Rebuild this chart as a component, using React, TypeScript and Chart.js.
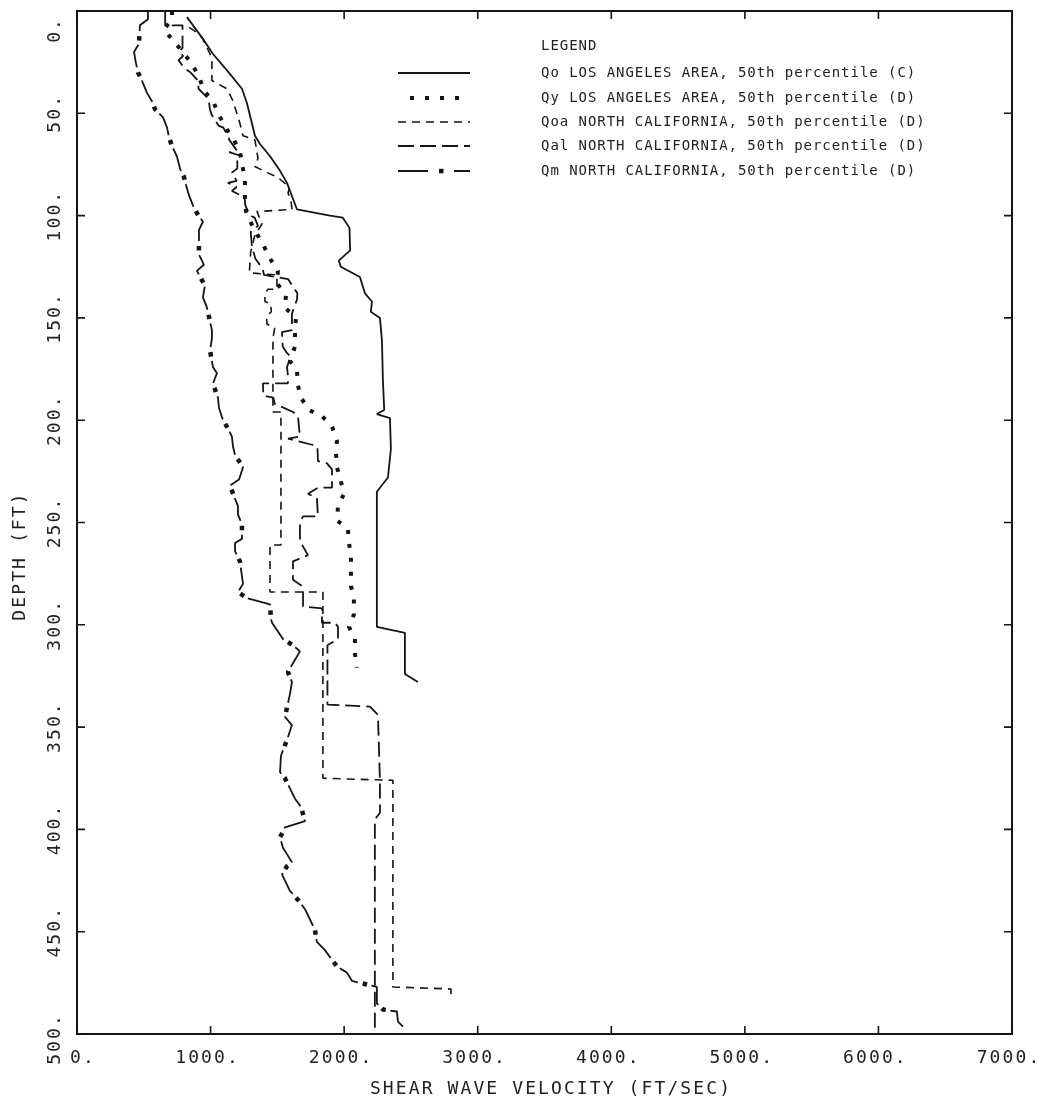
import React, { useEffect, useRef } from 'react';
import { Chart, registerables } from 'chart.js';

Chart.register(...registerables);

// ---------- data (velocity ft/s, depth ft) ----------
const X_TICKS = [0, 1000, 2000, 3000, 4000, 5000, 6000, 7000];
const X_TICK_LABELS = ['0.', '1000.', '2000.', '3000.', '4000.', '5000.', '6000.', '7000.'];
const Y_TICKS = [0, 50, 100, 150, 200, 250, 300, 350, 400, 450, 500];
const Y_TICK_LABELS = ['0.', '50.', '100.', '150.', '200.', '250.', '300.', '350.', '400.', '450.', '500.'];

const X_TITLE = 'SHEAR WAVE VELOCITY (FT/SEC)';
const Y_TITLE = 'DEPTH (FT)';
const LEGEND_TITLE = 'LEGEND';
const SERIES_LABELS = [
  'Qo LOS ANGELES AREA, 50th percentile (C)',
  'Qy LOS ANGELES AREA, 50th percentile (D)',
  'Qoa NORTH CALIFORNIA, 50th percentile (D)',
  'Qal NORTH CALIFORNIA, 50th percentile (D)',
  'Qm NORTH CALIFORNIA, 50th percentile (D)',
];

const QO_POINTS: [number, number][] = [
  [823, 3], [936, 13], [1018, 21], [1123, 29], [1235, 38], [1272, 45], [1310, 55], [1332, 61],
  [1370, 65], [1445, 71], [1519, 78], [1572, 84], [1647, 97], [1894, 100], [1990, 101], [2040, 106],
  [2045, 117], [1960, 122], [1975, 125], [2118, 130], [2156, 138], [2208, 142], [2200, 147], [2268, 150],
  [2283, 161], [2290, 180], [2300, 195], [2245, 197], [2343, 199], [2350, 214], [2328, 228], [2245, 235],
  [2245, 301], [2455, 304], [2455, 324], [2552, 328],
];

const QY_POINTS: [number, number][] = [
  [711, 0], [711, 4], [651, 9], [726, 15], [793, 20], [861, 26], [913, 32], [950, 39], [1018, 44],
  [1063, 51], [1123, 58], [1175, 63], [1220, 69], [1240, 76], [1257, 83], [1257, 91], [1265, 98],
  [1320, 106], [1392, 114], [1445, 121], [1504, 127], [1497, 133], [1564, 139], [1557, 145], [1639, 150],
  [1632, 157], [1632, 164], [1594, 171], [1647, 176], [1654, 183], [1677, 189], [1736, 195], [1834, 198],
  [1909, 203], [1946, 210], [1939, 216], [1946, 223], [1976, 230], [1999, 236], [1954, 242], [1946, 249],
  [2028, 253], [2036, 260], [2051, 266], [2051, 274], [2051, 281], [2073, 287], [2073, 295], [2036, 301],
  [2081, 307], [2081, 314], [2096, 321],
];

const QOA_POINTS: [number, number][] = [
  [840, 8], [885, 10], [936, 13], [996, 21], [1010, 25], [1010, 34], [1123, 38], [1168, 44], [1220, 55],
  [1243, 61], [1332, 63], [1355, 72], [1332, 76], [1422, 79], [1497, 81], [1590, 86], [1580, 89],
  [1600, 92], [1610, 97], [1347, 98], [1385, 104], [1330, 110], [1300, 118], [1290, 128], [1497, 129],
  [1497, 136], [1430, 136], [1407, 138], [1407, 142], [1450, 143], [1455, 147], [1420, 149], [1422, 153],
  [1480, 155], [1467, 160], [1467, 196], [1527, 196], [1527, 261], [1445, 261], [1445, 284], [1841, 284],
  [1841, 375], [2365, 376], [2365, 477], [2800, 478], [2800, 481],
];

const QAL_POINTS: [number, number][] = [
  [660, 0], [660, 7], [790, 7], [790, 18], [765, 20], [795, 22], [760, 24], [805, 28], [850, 30],
  [905, 34], [910, 38], [955, 41], [985, 43], [995, 48], [1010, 51], [1060, 56], [1095, 57], [1130, 61],
  [1140, 63], [1195, 68], [1140, 69], [1235, 71], [1200, 73], [1200, 77], [1160, 79], [1195, 83],
  [1130, 84], [1195, 86], [1160, 88], [1255, 91], [1260, 95], [1295, 100], [1330, 101], [1355, 105],
  [1300, 108], [1310, 115], [1335, 121], [1390, 126], [1400, 129], [1580, 131], [1650, 138], [1647, 141],
  [1609, 148], [1609, 156], [1534, 157], [1540, 164], [1570, 167], [1600, 169], [1572, 174], [1579, 178],
  [1579, 182], [1392, 182], [1395, 188], [1470, 189], [1480, 192], [1617, 196], [1654, 198], [1669, 208],
  [1580, 209], [1760, 212], [1800, 213], [1804, 220], [1870, 221], [1909, 224], [1909, 233], [1804, 233],
  [1730, 236], [1796, 238], [1804, 247], [1692, 247], [1669, 250], [1669, 259], [1729, 266], [1617, 269],
  [1617, 278], [1684, 281], [1692, 284], [1692, 291], [1834, 292], [1834, 299], [1931, 299], [1954, 301],
  [1954, 307], [1875, 310], [1875, 339], [2193, 340], [2253, 344], [2268, 376], [2268, 392], [2230, 395],
  [2230, 500],
];

const QM_POINTS: [number, number][] = [
  [531, 0], [531, 4], [471, 7], [464, 16], [427, 20], [440, 25], [456, 30], [486, 34], [524, 40],
  [560, 44], [584, 48], [644, 52], [674, 57], [690, 62], [711, 66], [748, 71], [771, 77], [800, 81],
  [816, 85], [838, 90], [868, 95], [900, 99], [943, 103], [913, 107], [913, 119], [950, 124], [898, 127],
  [930, 131], [958, 134], [943, 140], [973, 145], [990, 150], [1010, 156], [1010, 160], [996, 166],
  [1018, 174], [1048, 177], [1018, 182], [1055, 189], [1063, 194], [1093, 200], [1130, 204], [1160, 208],
  [1168, 213], [1183, 217], [1243, 223], [1213, 229], [1145, 232], [1175, 237], [1205, 242], [1205, 246],
  [1235, 251], [1235, 258], [1183, 260], [1183, 264], [1220, 269], [1243, 280], [1205, 284], [1272, 287],
  [1445, 290], [1452, 297], [1460, 299], [1542, 307], [1617, 310], [1669, 313], [1579, 323], [1609, 328],
  [1594, 334], [1557, 345], [1609, 349], [1579, 355], [1527, 364], [1520, 372], [1557, 375], [1632, 385],
  [1677, 389], [1707, 396], [1557, 399], [1520, 404], [1542, 409], [1609, 416], [1572, 418], [1535, 422],
  [1594, 430], [1662, 435], [1707, 439], [1781, 449], [1796, 455], [1856, 459], [1946, 467], [2021, 470],
  [2058, 474], [2245, 477], [2245, 485], [2290, 488], [2395, 489], [2403, 494], [2450, 497],
];

// ---------- styling ----------
const INK = '#151515';
const TEXT_INK = '#222222';
const FONT = "'DejaVu Sans Mono', monospace";
const CANVAS_W = 1031;
const CANVAS_H = 1092;
const PAGE_OFF = 8; // body margin

const toXY = (pts: [number, number][]) => pts.map(([x, y]) => ({ x, y }));

function setSpacing(ctx: CanvasRenderingContext2D, px: number) {
  (ctx as any).letterSpacing = px + 'px';
}

const framePlugin = {
  id: 'plotterFrame',
  afterDraw(chart: any) {
    const ctx: CanvasRenderingContext2D = chart.ctx;
    const xs = chart.scales.x;
    const ys = chart.scales.y;
    const { left, right, top, bottom } = chart.chartArea;
    ctx.save();
    ctx.strokeStyle = INK;
    ctx.setLineDash([]);
    ctx.lineWidth = 2;
    ctx.strokeRect(left, top, right - left, bottom - top);

    // inward ticks
    ctx.lineWidth = 1.6;
    const tl = 8;
    ctx.beginPath();
    X_TICKS.forEach((v) => {
      const px = xs.getPixelForValue(v);
      ctx.moveTo(px, bottom);
      ctx.lineTo(px, bottom - tl);
      ctx.moveTo(px, top);
      ctx.lineTo(px, top + tl);
    });
    Y_TICKS.forEach((v) => {
      const py = ys.getPixelForValue(v);
      ctx.moveTo(left, py);
      ctx.lineTo(left + tl, py);
      ctx.moveTo(right, py);
      ctx.lineTo(right - tl, py);
    });
    ctx.stroke();

    // tick labels
    ctx.fillStyle = TEXT_INK;
    ctx.font = `18px ${FONT}`;
    setSpacing(ctx, 2.1);
    ctx.textAlign = 'center';
    ctx.textBaseline = 'middle';
    X_TICKS.forEach((v, i) => {
      const px = xs.getPixelForValue(v);
      const shift = i === 0 ? 6 : -3;
      ctx.fillText(X_TICK_LABELS[i], px + shift, 1058 - PAGE_OFF);
    });
    Y_TICKS.forEach((v, i) => {
      let py = ys.getPixelForValue(v);
      const w = ctx.measureText(Y_TICK_LABELS[i]).width;
      py = Math.max(py, top + w / 2 + 6);
      if (i === Y_TICKS.length - 1) py += 5;
      ctx.save();
      ctx.translate(55 - PAGE_OFF, py);
      ctx.rotate(-Math.PI / 2);
      ctx.fillText(Y_TICK_LABELS[i], 0, 0);
      ctx.restore();
    });

    // axis titles
    ctx.fillText(X_TITLE, 551 - PAGE_OFF, 1089 - PAGE_OFF);
    ctx.save();
    ctx.translate(20 - PAGE_OFF, 556 - PAGE_OFF);
    ctx.rotate(-Math.PI / 2);
    ctx.fillText(Y_TITLE, 0, 0);
    ctx.restore();

    // legend
    ctx.font = `14px ${FONT}`;
    setSpacing(ctx, 0.95);
    ctx.textAlign = 'left';
    const tx = 541 - PAGE_OFF;
    ctx.fillText(LEGEND_TITLE, tx, 46 - PAGE_OFF);
    const rows = [73, 98, 122, 146, 171].map((r) => r - PAGE_OFF);
    const sx0 = 398 - PAGE_OFF;
    const sx1 = 470 - PAGE_OFF;
    SERIES_LABELS.forEach((lab, i) => ctx.fillText(lab, tx, rows[i]));
    setSpacing(ctx, 0);

    ctx.strokeStyle = INK;
    ctx.lineCap = 'butt';
    // Qo solid
    ctx.lineWidth = 1.8;
    ctx.setLineDash([]);
    ctx.beginPath();
    ctx.moveTo(sx0, rows[0]);
    ctx.lineTo(sx1, rows[0]);
    ctx.stroke();
    // Qy squares
    ctx.fillStyle = INK;
    for (let k = 0; k < 4; k++) {
      ctx.fillRect(412 - PAGE_OFF + k * 15 - 2, rows[1] - 2, 4, 4);
    }
    // Qoa short dash
    ctx.lineWidth = 1.6;
    ctx.setLineDash([8, 6]);
    ctx.beginPath();
    ctx.moveTo(sx0, rows[2]);
    ctx.lineTo(sx1, rows[2]);
    ctx.stroke();
    // Qal long dash
    ctx.lineWidth = 1.8;
    ctx.setLineDash([16, 6]);
    ctx.beginPath();
    ctx.moveTo(sx0, rows[3]);
    ctx.lineTo(sx1, rows[3]);
    ctx.stroke();
    // Qm dash-dot
    ctx.setLineDash([]);
    ctx.beginPath();
    ctx.moveTo(sx0, rows[4]);
    ctx.lineTo(sx0 + 30, rows[4]);
    ctx.moveTo(sx0 + 56, rows[4]);
    ctx.lineTo(sx1, rows[4]);
    ctx.stroke();
    ctx.fillRect(sx0 + 41, rows[4] - 2.2, 4.5, 4.5);

    ctx.restore();
  },
};

const baseLine = {
  showLine: true,
  pointRadius: 0,
  pointHoverRadius: 0,
  fill: false,
  tension: 0,
  borderColor: INK,
  borderCapStyle: 'butt' as const,
  borderJoinStyle: 'bevel' as const,
};

export default function App() {
  const ref = useRef<HTMLCanvasElement>(null);

  useEffect(() => {
    const canvas = ref.current;
    if (!canvas) return;
    const chart = new Chart(canvas, {
      type: 'scatter',
      data: {
        datasets: [
          { ...baseLine, label: SERIES_LABELS[0], data: toXY(QO_POINTS), borderWidth: 1.8 },
          { ...baseLine, label: SERIES_LABELS[1], data: toXY(QY_POINTS), borderWidth: 4, borderDash: [4, 10] },
          { ...baseLine, label: SERIES_LABELS[2], data: toXY(QOA_POINTS), borderWidth: 1.6, borderDash: [8, 6] },
          { ...baseLine, label: SERIES_LABELS[3], data: toXY(QAL_POINTS), borderWidth: 1.8, borderDash: [15, 6] },
          { ...baseLine, label: SERIES_LABELS[4], data: toXY(QM_POINTS), borderWidth: 1.8, borderDash: [24, 14] },
          {
            ...baseLine,
            label: SERIES_LABELS[4] + ' markers',
            data: toXY(QM_POINTS),
            borderWidth: 4.5,
            borderDash: [4.5, 33.5],
            borderDashOffset: 9,
          },
        ],
      } as any,
      options: {
        animation: false,
        responsive: false,
        devicePixelRatio: 1,
        events: [],
        layout: { padding: { left: 69, top: 3, right: 27, bottom: 66 } },
        scales: {
          x: { type: 'linear', min: 0, max: 7000, display: false },
          y: { type: 'linear', min: 0, max: 500, reverse: true, display: false },
        },
        plugins: {
          legend: { display: false },
          tooltip: { enabled: false },
          title: { display: false },
        },
      } as any,
      plugins: [framePlugin],
    });
    return () => chart.destroy();
  }, []);

  return (
    <canvas
      ref={ref}
      width={CANVAS_W}
      height={CANVAS_H}
      style={{ display: 'block', width: CANVAS_W, height: CANVAS_H, background: '#fff' }}
    />
  );
}
